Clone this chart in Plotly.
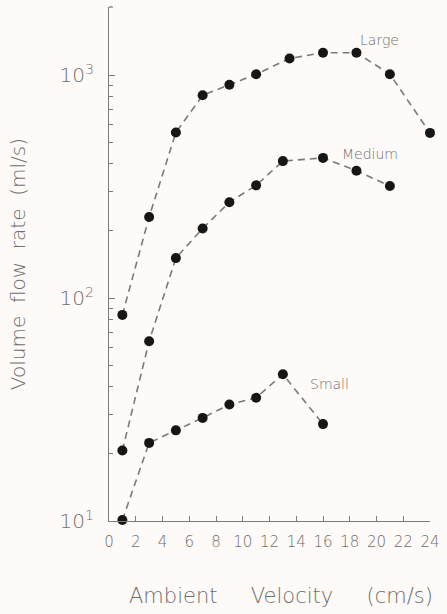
import math
import plotly.graph_objects as go

# Ambient velocity (cm/s) and volume flow rate (ml/s) for three sizes
large_x = [1, 3, 5, 7, 9, 11, 13.5, 16, 18.5, 21, 24]
large_y = [84, 231, 552, 811, 904, 1008, 1186, 1259, 1259, 1008, 550]

medium_x = [1, 3, 5, 7, 9, 11, 13, 16, 18.5, 21]
medium_y = [20.7, 64, 151, 205, 269, 320, 411, 425, 372, 318]

small_x = [1, 3, 5, 7, 9, 11, 13, 16]
small_y = [10.1, 22.4, 25.5, 29.0, 33.3, 35.7, 45.5, 27.2]

series_labels = ["Large", "Medium", "Small"]
label_x = [20.2, 19.5, 16.5]
label_y = [1440, 441, 41.1]

x_ticks = list(range(0, 25, 2))
y_ticks = [10, 100, 1000]
y_ticktext = ["10<sup>1</sup>", "10<sup>2</sup>", "10<sup>3</sup>"]
y_minor = [m * d for d in (10, 100, 1000) for m in range(2, 10) if m * d < 2020]

FONT = "DejaVu Sans"
TEXT_COLOR = "#6e6e6e"
LINE_COLOR = "#7a7a7a"
DOT_COLOR = "#161616"
BG = "#fdfaf7"

fig = go.Figure()
for xs, ys in [(large_x, large_y), (medium_x, medium_y), (small_x, small_y)]:
    fig.add_trace(go.Scatter(
        x=xs, y=ys, mode="lines+markers",
        line=dict(color=LINE_COLOR, width=1.6, dash="7px,5px"),
        marker=dict(color=DOT_COLOR, size=10),
        cliponaxis=False, showlegend=False, hoverinfo="skip",
    ))

# series names sit beside their curves (log axis: positions in decades)
for txt, lx, ly in zip(series_labels, label_x, label_y):
    fig.add_annotation(x=lx, y=math.log10(ly), yref="y", xref="x", text=txt,
                       showarrow=False,
                       font=dict(family=FONT, size=14, color=TEXT_COLOR, weight=300))

# axis titles
gap = "\u00a0" * 5
fig.add_annotation(xref="paper", yref="paper", x=0.536, y=-0.145, yanchor="middle",
                   text=f"Ambient{gap}Velocity{gap}(cm/s)",
                   showarrow=False,
                   font=dict(family=FONT, size=21, color=TEXT_COLOR, weight=300))
fig.add_annotation(xref="paper", yref="paper", x=-0.283, y=0.5, xanchor="center",
                   text="Volume\u00a0\u00a0flow\u00a0\u00a0rate\u00a0\u00a0(ml/s)",
                   textangle=-90, showarrow=False,
                   font=dict(family=FONT, size=20, color=TEXT_COLOR, weight=300))

# small cap at the top of the vertical axis
fig.add_shape(type="line", xref="paper", yref="paper", x0=0, x1=0.012, y0=1, y1=1,
              line=dict(color=LINE_COLOR, width=1.3))

fig.update_xaxes(
    range=[0, 24], tickvals=x_ticks, ticktext=[str(v) for v in x_ticks],
    showline=True, linecolor=LINE_COLOR, linewidth=1.3,
    ticks="inside", ticklen=5, tickcolor=LINE_COLOR, tickwidth=1,
    showgrid=False, zeroline=False, ticklabelstandoff=7,
    tickfont=dict(family=FONT, size=15, color=TEXT_COLOR, weight=300),
)
fig.update_yaxes(
    type="log", range=[1, 3.305], tickvals=y_ticks, ticktext=y_ticktext,
    showline=True, linecolor=LINE_COLOR, linewidth=1.3,
    ticks="inside", ticklen=6, tickcolor=LINE_COLOR, tickwidth=1,
    minor=dict(tickmode="array", tickvals=y_minor, ticks="inside", ticklen=4,
               tickcolor=LINE_COLOR, tickwidth=1, showgrid=False),
    showgrid=False, zeroline=False, ticklabelstandoff=10,
    tickfont=dict(family=FONT, size=20, color=TEXT_COLOR, weight=300),
)

fig.update_layout(
    width=447, height=614,
    margin=dict(l=109, r=17, t=7, b=93),
    paper_bgcolor=BG, plot_bgcolor=BG,
    font=dict(family=FONT, color=TEXT_COLOR),
)

fig.write_html("out.html")
